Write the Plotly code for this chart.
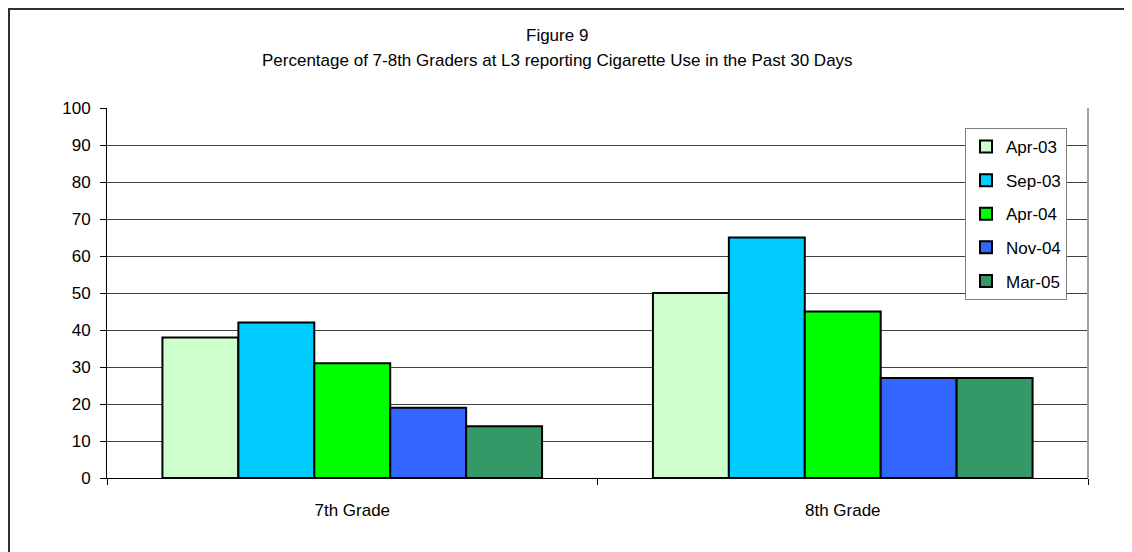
import plotly.graph_objects as go

categories = ["7th Grade", "8th Grade"]
series_names = ["Apr-03", "Sep-03", "Apr-04", "Nov-04", "Mar-05"]
apr03 = [38, 50]
sep03 = [42, 65]
apr04 = [31, 45]
nov04 = [19, 27]
mar05 = [14, 27]
series_values = [apr03, sep03, apr04, nov04, mar05]
colors = ["#CCFFCC", "#00CCFF", "#00FF00", "#3366FF", "#339966"]
y_ticks = [0, 10, 20, 30, 40, 50, 60, 70, 80, 90, 100]

# page has an 8px body margin; figure sized to fill the rest of the window
OFF = 8
W, H = 1132 - OFF, 552 - OFF
ML, MR, MT, MB = 99, 44, 100, 74
PW, PH = W - ML - MR, H - MT - MB

fig = go.Figure()
for name, vals, col in zip(series_names, series_values, colors):
    fig.add_trace(go.Bar(
        x=categories, y=vals, name=name, legendgroup=name,
        marker=dict(color=col, line=dict(color="black", width=2)),
    ))

FONT = "Liberation Sans, Arial, sans-serif"

def px_x(page_px):
    return (page_px - OFF - ML) / PW

def px_y(page_py):
    return (H - MB - (page_py - OFF)) / PH

fig.update_layout(
    width=W, height=H,
    margin=dict(l=ML, r=MR, t=MT, b=MB),
    paper_bgcolor="white", plot_bgcolor="white",
    font=dict(family=FONT, size=17, color="black"),
    barmode="group", bargap=0.226, bargroupgap=0,
    showlegend=True,
    legend=dict(
        x=px_x(1067), y=px_y(128), xanchor="right", yanchor="top",
        bgcolor="white", bordercolor="#808080", borderwidth=1,
        font=dict(family=FONT, size=17),
        traceorder="grouped", tracegroupgap=8.5,
    ),
    xaxis=dict(
        showgrid=False, showline=True, linecolor="black", linewidth=1,
        ticks="outside", tickson="boundaries", ticklen=6, tickcolor="black",
        tickfont=dict(size=17), ticklabelstandoff=17,
    ),
    yaxis=dict(
        range=[0, 100], tickvals=y_ticks, showgrid=True, gridcolor="#404040",
        gridwidth=1, showline=True, linecolor="black", linewidth=1,
        ticks="outside", ticklen=6, tickcolor="black", zeroline=False,
        tickfont=dict(size=17), ticklabelstandoff=6,
    ),
    annotations=[
        dict(text="Figure 9", xref="paper", yref="paper", x=px_x(557), y=px_y(35),
             showarrow=False, font=dict(size=17), xanchor="center", yanchor="middle"),
        dict(text="Percentage of 7-8th Graders at L3 reporting Cigarette Use in the Past 30 Days",
             xref="paper", yref="paper", x=px_x(557), y=px_y(60),
             showarrow=False, font=dict(size=17), xanchor="center", yanchor="middle"),
    ],
    shapes=[
        dict(type="rect", xref="paper", yref="paper", x0=px_x(9), x1=px_x(1145),
             y0=px_y(570), y1=px_y(9), line=dict(color="#303030", width=2), layer="below"),
        dict(type="line", xref="paper", yref="paper", x0=1, x1=1, y0=0, y1=1,
             line=dict(color="#A0A0A0", width=2)),
    ],
)

fig.write_html("out.html")
